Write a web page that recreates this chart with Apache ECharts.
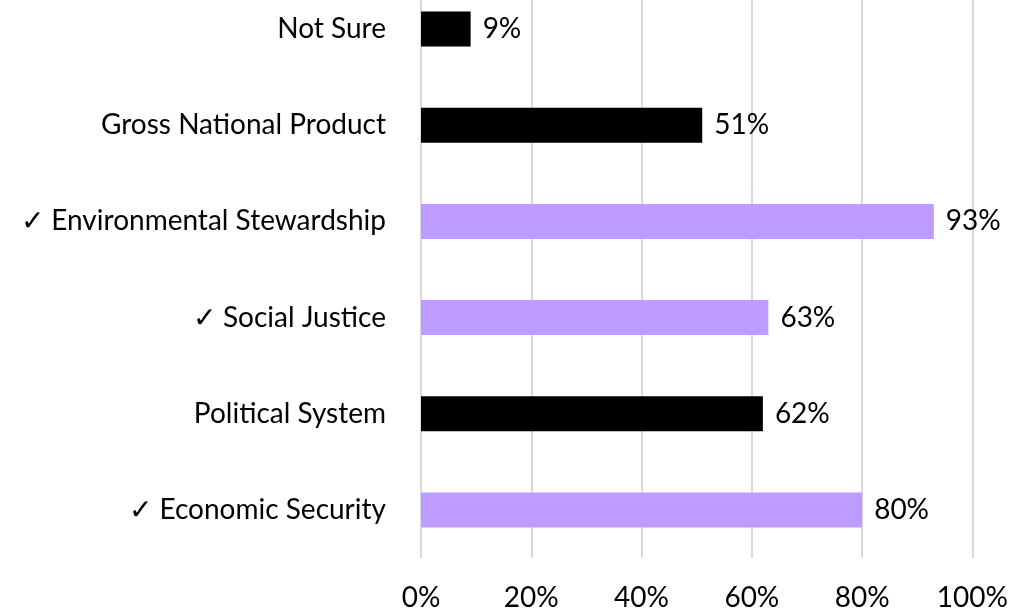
<!DOCTYPE html>
<html>
<head>
<meta charset="utf-8">
<script src="https://cdn.jsdelivr.net/npm/echarts@6/dist/echarts.min.js"></script>
<style>
  html, body { margin: 0; padding: 0; background: #fff; overflow: hidden; }
  /* the plot starts slightly above the page edge */
  #chart { width: 1011px; height: 631px; margin-top: -19px; }
</style>
</head>
<body>
<div id="chart"></div>
<script>
// Categories listed bottom to top (category axis on y starts at the bottom)
const categories = [
  '\u2713 Economic Security',
  'Political System',
  '\u2713 Social Justice',
  '\u2713 Environmental Stewardship',
  'Gross National Product',
  'Not Sure'
];
const percentValues = [80, 62, 63, 93, 51, 9];
const checkedFlags = [true, false, true, true, false, false];
const xTickValues = [0, 20, 40, 60, 80, 100];

const PURPLE = '#BE9CFF';
const BLACK = '#000000';
const FONT = 'Lato, "Open Sans", sans-serif';

const chart = echarts.init(document.getElementById('chart'), null, { renderer: 'canvas' });

chart.setOption({
  animation: false,
  backgroundColor: '#ffffff',
  grid: { left: 421, right: 36, top: 0, bottom: 52, containLabel: false },
  xAxis: {
    type: 'value',
    min: xTickValues[0],
    max: xTickValues[xTickValues.length - 1],
    interval: 20,
    axisLine: { show: false },
    axisTick: { show: false },
    splitLine: { show: true, lineStyle: { color: '#d9d9d9', width: 2 } },
    axisLabel: {
      formatter: v => v + '%',
      color: '#000',
      fontFamily: FONT,
      fontSize: 28,
      margin: 26
    }
  },
  yAxis: {
    type: 'category',
    data: categories,
    axisLine: { show: false },
    axisTick: { show: false },
    axisLabel: {
      color: '#000',
      fontFamily: FONT,
      fontSize: 28,
      margin: 35
    }
  },
  series: [{
    type: 'bar',
    barWidth: 35,
    data: percentValues.map((v, i) => ({
      value: v,
      itemStyle: { color: checkedFlags[i] ? PURPLE : BLACK }
    })),
    label: {
      show: true,
      position: 'right',
      distance: 12,
      formatter: p => p.value + '%',
      color: '#000',
      fontFamily: FONT,
      fontSize: 28
    }
  }]
});
</script>
</body>
</html>
